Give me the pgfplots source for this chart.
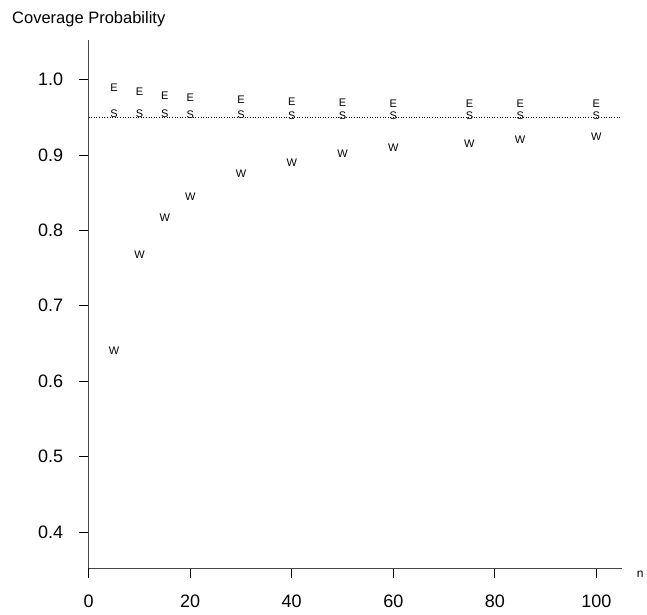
\documentclass[border=0pt]{standalone}
\usepackage{fontspec}
\setmainfont{Liberation Sans}
\usepackage{pgfplots}
\pgfplotsset{compat=1.18}
\newcommand{\mk}{\fontsize{11}{13}\selectfont}
\begin{document}
\begin{tikzpicture}
\path[use as bounding box] (-88.7pt,-46pt) rectangle (558.3pt,568pt);
\begin{axis}[
  scale only axis, width=533pt, height=528pt,
  at={(0pt,0pt)}, anchor=south west,
  xmin=0, xmax=105, ymin=0.3523, ymax=1.0523,
  axis x line=bottom, axis y line=left,
  axis line style={-, gray!55!black, line width=0.8pt},
  xtick={0,20,40,60,80,100},
  ytick={0.4,0.5,0.6,0.7,0.8,0.9,1.0},
  yticklabel style={/pgf/number format/fixed, /pgf/number format/precision=1, /pgf/number format/fixed zerofill, xshift=-12pt},
  xticklabel style={yshift=-16pt, inner sep=1pt},
  tick align=outside, major tick length=10pt,
  tick style={black, line width=0.7pt},
  ticklabel style={font=\fontsize{18}{21}\selectfont},
  /pgf/number format/assume math mode=true,
  clip=false,
]
\addplot[black, line width=0.8pt, dash pattern=on 1pt off 1.6pt] coordinates {(0,0.95) (105,0.95)};
\addplot[only marks, mark=text, text mark={\mk E}] coordinates {
(5,0.989)(10,0.984)(15,0.979)(20,0.976)(30,0.973)(40,0.970)(50,0.969)(60,0.968)(75,0.968)(85,0.968)(100,0.968)};
\addplot[only marks, mark=text, text mark={\mk S}] coordinates {
(5,0.9545)(10,0.9545)(15,0.954)(20,0.953)(30,0.953)(40,0.952)(50,0.952)(60,0.952)(75,0.952)(85,0.952)(100,0.952)};
\addplot[only marks, mark=text, text mark={\mk W}] coordinates {
(5,0.641)(10,0.768)(15,0.817)(20,0.845)(30,0.875)(40,0.890)(50,0.901)(60,0.910)(75,0.915)(85,0.920)(100,0.924)};
\end{axis}
\node[anchor=base west, inner sep=0pt, font=\fontsize{16.5}{19}\selectfont] at (-76.7pt,544pt) {Coverage Probability};
\node[anchor=base west, inner sep=0pt, font=\fontsize{12}{14}\selectfont] at (548pt,-9pt) {n};
\end{tikzpicture}
\end{document}
